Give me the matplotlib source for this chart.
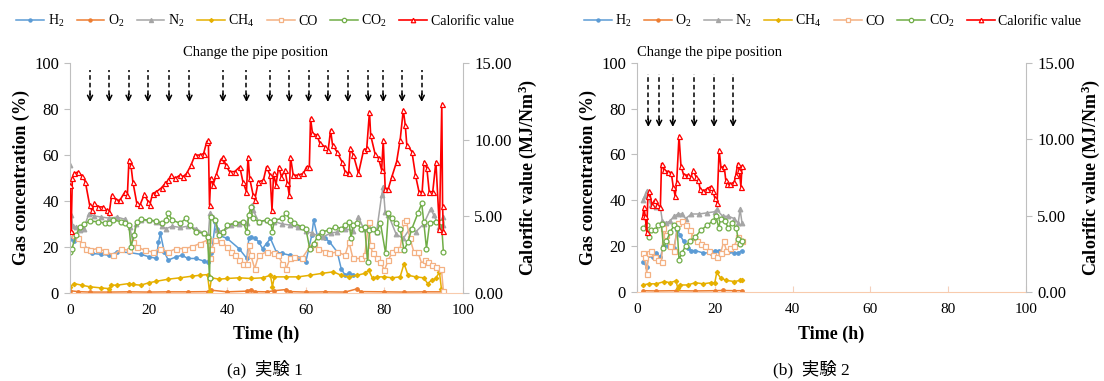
import matplotlib
matplotlib.use("Agg")
import matplotlib.pyplot as plt

plt.rcParams.update({'font.family': ['Liberation Serif', 'Noto Sans CJK JP']})
plt.rcParams.update({'mathtext.fontset': 'custom'})
plt.rcParams.update({'mathtext.rm': 'Liberation Serif'})
plt.rcParams.update({'mathtext.default': 'regular'})
font_size = 10

# ---------------- data : experiment 1 ----------------
h2_t1 = [0, 1, 2, 3, 4.5, 5.5, 8, 10, 12, 15, 18, 20, 22, 22.5, 23, 24, 25, 27, 28.5, 30, 32, 34, 35, 36,
         37, 37.5, 38, 40, 43, 45, 45.5, 46, 47, 48, 49, 50, 51, 52.5, 54, 56, 58, 60, 61.5, 62, 63, 65,
         66, 68, 69, 70, 71, 72]
h2_v1 = [23.5, 22.8, 23.7, 21.5, 19.3, 17.2, 16.8, 16.4, 17.8, 17.6, 16.8, 15.8, 15, 22, 25.9, 17.8, 14.3,
         15.7, 16.4, 15, 15, 13.9, 13.5, 17.2, 30.9, 28, 25, 23.7, 19.3, 15, 23.7, 24.4, 23.7, 22.3, 19.3,
         21.5, 23.7, 17.8, 17.2, 16.4, 15, 13.5, 25, 31.7, 24.4, 23.7, 22.3, 17.8, 10.6, 7.7, 8.5, 8]

o2_t1 = [0, 2, 5, 10, 15, 20, 25, 30, 35, 36, 40, 45, 46, 47, 50, 52, 55, 56, 60, 65, 70, 73, 74, 80, 85,
         90, 95]
o2_v1 = [1, 0.6, 0.4, 0.4, 0.5, 0.4, 0.5, 0.5, 0.6, 1.2, 0.5, 0.8, 1.5, 0.6, 0.5, 1.0, 1.5, 0.6, 0.4,
         0.5, 0.4, 1.8, 0.6, 0.5, 0.4, 0.5, 0.5]

n2_t1 = [0, 0.3, 0.7, 1.5, 2.5, 3.5, 4.8, 6, 8, 10, 12, 14, 15.2, 16, 16.8, 18, 20, 22, 23.3, 24.5, 26,
         28, 30, 32, 34, 35.2, 35.6, 36.5, 37.5, 39, 41, 43, 45, 46.2, 46.6, 48, 50, 52, 54, 56, 58, 60,
         61.5, 63, 64.5, 66.3, 68, 70, 72, 73.4, 74.7, 76.2, 78, 79.3, 79.7, 80.2, 81, 83, 84.8, 86.5,
         88, 90, 91.8, 92.5, 94, 94.8, 95]
n2_v1 = [55.5, 34, 29, 28.5, 27.5, 28, 34.5, 33.5, 33, 32.5, 33, 32, 28.7, 22, 30, 31.5, 31.5, 31, 29,
         28, 29, 28.5, 29, 28, 26, 25, 34.6, 33, 27.3, 26.6, 29.5, 30, 30.5, 38.2, 36, 31, 31.5, 31, 30,
         29.5, 28.5, 27, 26, 25, 24.5, 26, 26.5, 28, 27, 33, 28, 28.5, 26.6, 42.5, 46, 35, 34, 25.5,
         23.7, 28, 26.6, 30, 36.7, 34, 28.7, 29.5, 33]

ch4_t1 = [0, 1, 3, 5, 8, 10, 10.5, 12, 15, 16, 18, 20, 22, 25, 28, 31, 33, 35, 35.5, 36, 38, 40, 43, 46,
          49, 51, 51.5, 52, 55, 58, 61, 64, 67, 69, 71, 73, 75, 76, 77, 78, 80, 82, 84, 85, 86, 88, 90,
          91, 92, 93, 94, 94.5, 95]
ch4_v1 = [2.7, 4.1, 3.4, 2.7, 2.2, 1.9, 3.4, 3.4, 4.1, 3.7, 3.4, 4.4, 5.1, 6, 6.6, 7.3, 7.7, 8, 0.5, 6.6,
          6, 6.3, 6.6, 6.3, 6.6, 7.7, 2.7, 7, 7, 7, 7.7, 8.5, 9.2, 7.7, 7, 7.7, 8.5, 9.9, 6.3, 7, 7, 6.6,
          7, 12.8, 7.7, 7, 6.6, 4.1, 5.5, 6.3, 9, 1.9, 0.5]

co_t1 = [0, 1, 2, 3, 4, 5, 7, 9, 11, 13, 15, 16, 17, 19, 21, 23, 25, 27, 29, 31, 33, 35, 35.5, 36, 37,
         38.5, 40, 41, 42, 43, 44, 45, 45.5, 46, 47, 48, 50, 52, 53, 54, 55, 56, 57, 59, 61, 62, 63, 65,
         66, 68, 70, 71, 72, 74, 75, 76, 76.5, 77, 78, 79, 80, 81, 82, 83, 84, 85, 85.5, 86.5, 87.5,
         88.5, 89.5, 90.2, 91, 92, 93, 94.5, 95]
co_v1 = [26, 25, 23.7, 21.5, 19.3, 18.6, 19.3, 18.2, 16.4, 19, 18.6, 22, 20, 18.6, 17.8, 19.3, 17.8,
         19.3, 19.3, 20, 21.5, 23, 15, 19.3, 23, 22.3, 20, 17.8, 16.4, 14.3, 12.8, 12.8, 20.8, 16.4, 10.6,
         16.4, 17.8, 17.2, 16.4, 12.8, 10.6, 15, 15.7, 15, 20, 21.5, 19.3, 17.8, 17.2, 17.8, 16.4, 22, 15,
         15, 16.4, 30.9, 20.8, 17.2, 15, 13.5, 9.9, 14.3, 17.8, 19.3, 19.3, 30.9, 31.7, 23.7, 17.8, 17.8,
         12.8, 14.3, 13.5, 12, 11.3, 10.6, 1]

co2_t1 = [0, 0.5, 1.5, 2.5, 3.5, 5, 7, 9, 10, 11, 13, 14, 15, 15.5, 16.3, 17, 18, 20, 22, 23.5, 24.5,
          25, 26, 28, 29.5, 30.5, 32, 34, 35, 35.5, 35.8, 37, 38, 39, 40, 42, 44, 45, 45.5, 46, 46.5,
          48, 50, 51, 51.5, 52, 54, 55, 56, 57, 59, 60, 61, 62, 63, 64, 66, 67.5, 69, 70, 71, 71.5, 72,
          73, 74, 75, 75.7, 76.2, 77, 78, 79, 80.3, 81, 82, 83, 84, 85, 86, 87, 88.5, 89.5, 90, 90.7,
          91.5, 93, 94.5, 95]
co2_v1 = [18, 19.3, 25, 28.8, 30, 31.2, 31, 30.3, 30.3, 31.7, 31, 30.3, 29.5, 20, 25, 31, 32, 31.7,
          31.3, 30.3, 31.7, 34.6, 31.7, 30.3, 32.4, 29.5, 26.6, 25.9, 24.4, 6.3, 33, 31.7, 25, 26.6,
          29.5, 30.3, 31, 26.6, 33.8, 37.4, 32.4, 31, 31.7, 31, 26.6, 31.7, 32.4, 34.6, 31.7, 30.3,
          28.8, 28, 19.3, 21.5, 24.4, 26.6, 27.3, 28.8, 28, 29.5, 31, 23.7, 29.5, 30.3, 28, 28.8, 13.5,
          27.3, 28, 26.6, 30.3, 17.2, 34.6, 32.4, 30.3, 28, 18.6, 22.3, 28, 34.6, 38.9, 31, 19.3, 30.3,
          31, 31, 18]

cal_t1 = [0, 0.3, 0.6, 1, 2, 3, 3.9, 5, 5.5, 6.2, 7.2, 8.4, 9.3, 10, 10.6, 11.8, 12.7, 14, 14.6, 15,
          15.5, 16, 17, 17.8, 18.9, 19.9, 20.3, 21, 22, 23.3, 24.2, 25, 25.7, 26.7, 28, 28.8, 29.7, 30.8,
          31.8, 33.1, 34, 34.8, 35.2, 35.5, 35.8, 36.4, 37.2, 38.3, 39, 39.6, 40.6, 41.9, 43.2, 44,
          44.9, 45.3, 45.7, 46.6, 47, 47.9, 49.2, 50, 50.9, 51.4, 51.8, 52.4, 53.1, 53.8, 54.7, 55.3,
          55.8, 56.1, 56.8, 58.1, 59.4, 60.2, 60.9, 61.2, 61.7, 62.8, 63.6, 64.9, 65.7, 66.3, 66.8,
          67.9, 69.2, 70, 70.9, 71.3, 72.1, 73.4, 74.7, 75.5, 76.2, 76.5, 77.6, 78.5, 79.3, 79.7, 80.2,
          81, 81.9, 83.1, 84, 84.8, 85.3, 85.7, 87, 87.9, 88.8, 89.6, 90.1, 90.8, 91.4, 92.3, 93.1, 94,
          94.6, 94.8, 95]
cal_v1 = [7.05, 4.05, 7.5, 7.8, 7.88, 7.65, 7.25, 5.73, 5.4, 5.84, 5.61, 5.61, 5.4, 5.25, 6.38, 6.05,
          6.05, 6.6, 6.38, 8.66, 8.34, 7.25, 5.84, 5.73, 6.42, 5.94, 5.73, 6.48, 6.6, 6.86, 7.14, 7.35,
          7.68, 7.47, 7.68, 7.58, 7.8, 8.34, 8.99, 8.99, 9.09, 9.86, 9.96, 5.73, 7.5, 7.04, 7.68, 8.66,
          8.88, 8.34, 7.91, 7.91, 8.22, 7.25, 6.6, 8.88, 7.5, 6.38, 6.05, 7.25, 7.35, 8.22, 7.68, 5.4,
          7.8, 7.04, 8.22, 7.58, 8.01, 7.14, 6.38, 8.88, 7.68, 7.68, 7.8, 8.22, 8.22, 11.39, 10.4, 10.29,
          9.75, 9.53, 9.3, 10.62, 9.65, 9.21, 8.55, 7.91, 7.8, 9.42, 8.99, 7.8, 9.3, 9.42, 11.82, 10.29,
          9.09, 8.78, 8.01, 9.96, 6.81, 6.81, 7.58, 8.55, 9.96, 11.93, 10.95, 9.65, 9.21, 7.68, 6.6, 6.6,
          8.55, 8.12, 6.6, 6.6, 8.55, 4.2, 12.3, 5.7, 4.05]

arrows_1 = [5.1, 10.0, 14.9, 19.8, 25.2, 30.4, 38.9, 44.9, 50.8, 55.8, 60.7, 65.6, 70.7, 75.9, 79.7,
            84.5, 89.5]

# ---------------- data : experiment 2 ----------------
h2_t2 = [1.5, 2.5, 3, 4, 5, 6, 6.8, 8, 9.5, 10.3, 11, 12, 13, 14, 15, 17, 19, 20, 21, 22, 24, 25, 26, 27]
h2_v2 = [13, 11, 16, 15, 17, 15, 20, 20, 19, 27, 25, 22, 19, 18, 18, 17, 17, 18, 18, 17, 18, 17, 17, 18]

o2_t2 = [1.5, 5, 10, 15, 20, 22, 25, 27]
o2_v2 = [0.5, 0.4, 0.5, 0.4, 0.5, 0.6, 0.5, 0.5]

n2_t2 = [1.5, 2, 2.5, 3.5, 5, 6, 6.5, 7.5, 8.5, 9.5, 10.5, 11.5, 12.5, 14, 16, 18, 20, 20.5, 22, 23.5,
         25, 26, 26.5, 27]
n2_v2 = [40, 42, 44, 38, 37, 37, 31, 30, 31, 33, 34, 34, 32, 34, 34, 34.5, 35, 36, 33, 33, 32, 30, 36, 30]

ch4_t2 = [1.5, 3, 5, 7, 8.5, 10, 10.5, 11, 13, 15, 17, 19, 20, 20.5, 21.5, 23, 25, 26.5, 27]
ch4_v2 = [3, 3.5, 3.5, 4.5, 4, 4.8, 1.5, 3, 3, 4, 3.5, 4, 4, 8.5, 6, 5, 4.5, 5, 5]

co_t2 = [1.5, 2, 2.5, 3, 3.5, 4.5, 5.5, 6.3, 6.8, 7.5, 8.5, 9.5, 10.5, 11.5, 12.5, 13.5, 14.5, 15.5,
         16.5, 17.5, 18.5, 19.5, 20.5, 21.5, 22.3, 23, 24, 25, 26, 27]
co_v2 = [17, 15, 8, 17, 18, 15, 14, 13, 28, 25, 20, 18, 30, 31, 29, 27, 24, 22, 21, 20, 18, 16, 15, 17,
         22, 18, 19, 20, 24, 22]

co2_t2 = [1.5, 2.5, 3, 3.5, 4.5, 5.5, 6.3, 6.8, 7.5, 8.5, 9.5, 10.3, 10.8, 11.5, 12.5, 13.5, 15, 16.5,
          18, 19.5, 20.3, 21, 21.5, 22.5, 23.5, 24.5, 25.5, 26, 26.5, 27]
co2_v2 = [28, 29, 24, 27, 27, 29, 29.5, 19, 22, 26, 29, 28, 14, 17, 20, 22, 24, 27, 29, 31, 33, 28, 32,
          31, 28, 30, 28, 23, 21, 22]

cal_t2 = [1.5, 1.8, 2.1, 2.5, 2.8, 3.2, 3.8, 4.5, 5.2, 6.0, 6.3, 7.0, 8.0, 8.8, 9.3, 9.8, 10.2, 10.8,
          11.3, 12, 13, 13.8, 14.5, 15.2, 15.8, 16.2, 17, 18, 19, 19.5, 20, 20.6, 21.1, 21.6, 22.4, 22.8,
          23.2, 24, 25, 25.4, 25.9, 26.3, 26.7, 27]
cal_v2 = [4.95, 5.55, 4.95, 3.9, 6.3, 6.6, 5.7, 6.0, 5.7, 5.55, 8.4, 7.95, 7.88, 7.8, 6.9, 6.3, 7.2,
          10.2, 8.25, 7.65, 7.65, 7.5, 7.95, 7.5, 7.35, 6.75, 6.6, 6.75, 6.9, 6.6, 6.15, 5.85, 9.3, 8.1,
          8.25, 7.35, 7.05, 7.05, 7.2, 7.65, 8.4, 7.95, 6.9, 8.25]

arrows_2 = [2.9, 5.7, 9.2, 14.7, 19.8, 24.7]

x_ticks = [0, 20, 40, 60, 80, 100]
y_ticks = [0, 20, 40, 60, 80, 100]
cal_ticks = [0, 5, 10, 15]

gas_labels = ['H$_2$', 'O$_2$', 'N$_2$', 'CH$_4$', 'CO', 'CO$_2$']
gas_colors = ['#5b9bd5', '#ed7d31', '#a5a5a5', '#e6b000', '#f4b183', '#70ad47']
gas_markers = ['o', 'o', '^', 'D', 's', 'o']
gas_filled = [True, True, True, True, False, False]
gas_msize = [2.5, 2.5, 3.3, 2.2, 3.6, 3.5]
cal_color = '#ff0000'

experiments = [
    dict(gas=[(h2_t1, h2_v1), (o2_t1, o2_v1), (n2_t1, n2_v1), (ch4_t1, ch4_v1), (co_t1, co_v1),
              (co2_t1, co2_v1)],
         cal=(cal_t1, cal_v1), arrows=arrows_1, arrow_top=97, arrow_bot=83,
         rect=[0.0634, 0.231, 0.3560, 0.604], caption='(a)  実験 1', cap_x=0.240,
         note_x=0.231, note_ha='center', leg_x=0.240),
    dict(gas=[(h2_t2, h2_v2), (o2_t2, o2_v2), (n2_t2, n2_v2), (ch4_t2, ch4_v2), (co_t2, co_v2),
              (co2_t2, co2_v2)],
         cal=(cal_t2, cal_v2), arrows=arrows_2, arrow_top=95, arrow_bot=72,
         rect=[0.5770, 0.234, 0.3524, 0.601], caption='(b)  実験 2', cap_x=0.735,
         note_x=0.577, note_ha='left', leg_x=0.754),
]

fig = plt.figure(figsize=(11.04, 3.81), dpi=100)
axis_grey = '#bfbfbf'

for exp in experiments:
    ax = fig.add_axes(exp['rect'])
    ax2 = ax.twinx()
    handles = []
    for (t, v), lab, col, mk, fill, ms in zip(exp['gas'], gas_labels, gas_colors, gas_markers,
                                             gas_filled, gas_msize):
        h, = ax.plot(t, v, color=col, lw=1.1, marker=mk, ms=ms,
                     mfc=col if fill else 'white', mec=col, mew=0.9, label=lab)
        handles.append(h)
    ct, cv = exp['cal']
    h, = ax2.plot(ct, cv, color=cal_color, lw=1.2, marker='^', ms=3.6, mfc='white', mec=cal_color,
                  mew=0.9, label='Calorific value')
    handles.append(h)

    # pipe position arrows
    for xa in exp['arrows']:
        ax.vlines(xa, exp['arrow_bot'] + 3, exp['arrow_top'], colors='black', lw=1.1,
                  linestyles=(0, (3, 2)))
        ax.annotate('', xy=(xa, exp['arrow_bot']), xytext=(xa, exp['arrow_bot'] + 3.5),
                    arrowprops=dict(arrowstyle='->', color='black', lw=1.1,
                                    shrinkA=0, shrinkB=0, mutation_scale=9))

    ax.set_xlim(0, 100)
    ax.set_ylim(0, 100)
    ax2.set_ylim(0, 15)
    ax.set_xticks(x_ticks)
    ax.set_yticks(y_ticks)
    ax2.set_yticks(cal_ticks)
    ax2.set_yticklabels(['%.2f' % c for c in cal_ticks])
    for a in (ax, ax2):
        for s in a.spines.values():
            s.set_visible(False)
    ax.spines['left'].set_visible(True)
    ax.spines['left'].set_color(axis_grey)
    ax.spines['bottom'].set_visible(True)
    ax.spines['bottom'].set_color('#f8cbad')
    ax2.spines['right'].set_visible(True)
    ax2.spines['right'].set_color(axis_grey)
    ax.tick_params(axis='y', direction='out', length=4, color=axis_grey, labelsize=font_size + 2,
                   pad=4)
    ax.tick_params(axis='x', direction='in', length=4, color='#f4d0bc', labelsize=font_size + 1,
                   pad=8)
    ax2.tick_params(axis='y', direction='out', length=4, color=axis_grey, labelsize=font_size + 2,
                    pad=4)

    l, b, w, hgt = exp['rect']
    cy = b + hgt / 2
    fig.text(l - 0.044, cy, 'Gas concentration (%)', rotation=90, ha='center', va='center',
             fontsize=font_size + 3, fontweight='bold')
    fig.text(l + w + 0.059, cy, 'Calorific value (MJ/Nm$^3$)', rotation=90, ha='center',
             va='center', fontsize=font_size + 3, fontweight='bold')
    fig.text(l + w / 2, 0.122, 'Time (h)', ha='center', va='center', fontsize=font_size + 3,
             fontweight='bold')
    fig.text(exp['cap_x'], 0.030, exp['caption'], ha='center', va='center', fontsize=font_size + 2.5,
             family=['Liberation Serif', 'Noto Sans CJK JP'])
    fig.text(exp['note_x'], 0.862, 'Change the pipe position', ha=exp['note_ha'], va='center',
             fontsize=font_size + 0.5)
    fig.legend(handles=handles, loc='center', bbox_to_anchor=(exp['leg_x'], 0.945), ncol=7,
               frameon=False, fontsize=font_size, handlelength=2.0, handletextpad=0.25,
               columnspacing=0.9, borderaxespad=0, markerscale=0.9)

fig.savefig('out.png', dpi=100)
